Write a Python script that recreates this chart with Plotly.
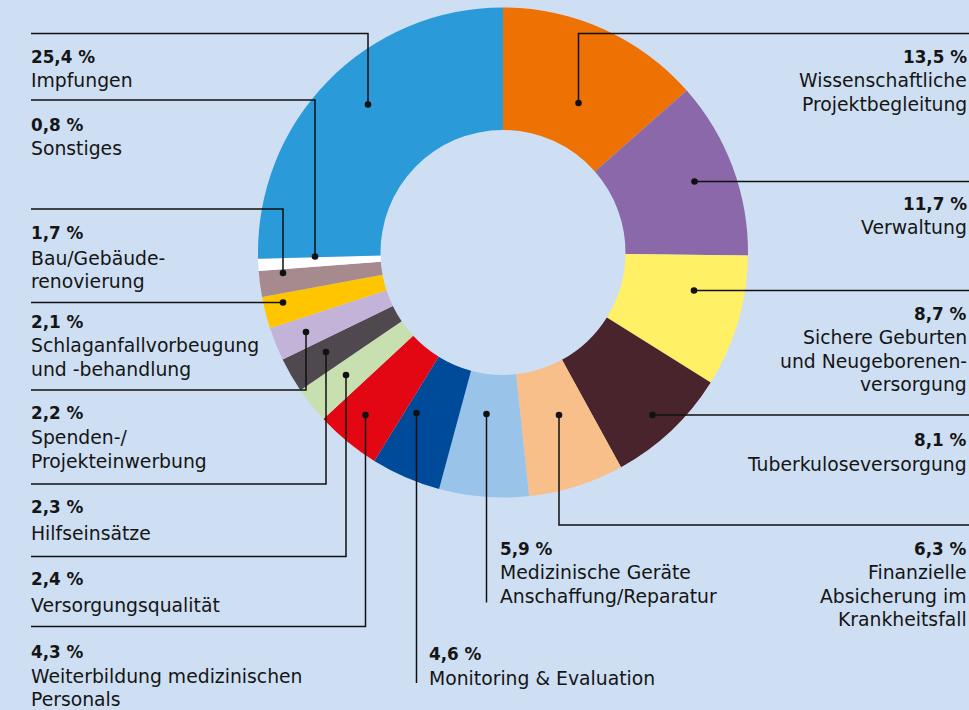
import plotly.graph_objects as go

# ---- data (clockwise from 12 o'clock) ----
labels = ["Wissenschaftliche Projektbegleitung", "Verwaltung",
          "Sichere Geburten und Neugeborenenversorgung", "Tuberkuloseversorgung",
          "Finanzielle Absicherung im Krankheitsfall",
          "Medizinische Geräte Anschaffung/Reparatur", "Monitoring & Evaluation",
          "Weiterbildung medizinischen Personals", "Versorgungsqualität",
          "Hilfseinsätze", "Spenden-/Projekteinwerbung",
          "Schlaganfallvorbeugung und -behandlung", "Bau/Gebäuderenovierung",
          "Sonstiges", "Impfungen"]
values = [13.5, 11.7, 8.7, 8.1, 6.3, 5.9, 4.6, 4.3, 2.4, 2.3, 2.2, 2.1, 1.7, 0.8, 25.4]
pct_text = ["13,5 %", "11,7 %", "8,7 %", "8,1 %", "6,3 %", "5,9 %", "4,6 %", "4,3 %",
            "2,4 %", "2,3 %", "2,2 %", "2,1 %", "1,7 %", "0,8 %", "25,4 %"]
label_lines = [["Wissenschaftliche", "Projektbegleitung"], ["Verwaltung"],
               ["Sichere Geburten", "und Neugeborenen-", "versorgung"],
               ["Tuberkuloseversorgung"],
               ["Finanzielle", "Absicherung im", "Krankheitsfall"],
               ["Medizinische Geräte", "Anschaffung/Reparatur"],
               ["Monitoring & Evaluation"],
               ["Weiterbildung medizinischen", "Personals"],
               ["Versorgungsqualität"], ["Hilfseinsätze"],
               ["Spenden-/", "Projekteinwerbung"],
               ["Schlaganfallvorbeugung", "und -behandlung"],
               ["Bau/Gebäude-", "renovierung"], ["Sonstiges"], ["Impfungen"]]
colors = ["#EE7203", "#8A68AA", "#FFF066", "#4A242D", "#F8BF8B", "#99C3E8", "#004A9A",
          "#E30613", "#C8E0B0", "#4F484F", "#C4B3D8", "#FFC600", "#A68A8E", "#FFFFFF",
          "#2A9AD8"]

# ---- layout (pixel positions of text blocks and leader lines) ----
W, H = 969, 710
BG = "#CEDFF3"
# text block: (x, y_of_first_line_center, xanchor)
blocks = [(968, 57, "right"), (968, 204, "right"), (968, 314, "right"), (968, 440, "right"),
          (968, 549, "right"), (499, 549, "left"), (427.5, 654, "left"), (30, 652, "left"),
          (30, 579, "left"), (30, 507, "left"), (30, 413, "left"), (30, 322, "left"),
          (30, 233, "left"), (30, 125, "left"), (30, 57, "left")]
first_gap = [23.5, 23.5, 23.5, 24.5, 23.5, 23.5, 24, 24, 26, 26, 24.5, 23.5, 25, 23.5, 23.5]
line_step = 23.7
# leader polylines (pixel coords), last point is the dot
leaders = [
    [(969, 33.5), (578.5, 33.5), (578.5, 103)],
    [(969, 181.5), (694.5, 181.5)],
    [(969, 290.5), (694, 290.5)],
    [(969, 415), (652.5, 415)],
    [(969, 525), (559, 525), (559, 415)],
    [(486.5, 602.5), (486.5, 414)],
    [(416.5, 683), (416.5, 413)],
    [(31, 626.5), (365.5, 626.5), (365.5, 415)],
    [(31, 556.5), (346, 556.5), (346, 375)],
    [(31, 484), (326, 484), (326, 352)],
    [(31, 390), (306, 390), (306, 332)],
    [(31, 302.5), (283, 302.5)],
    [(31, 209), (283, 209), (283, 273)],
    [(31, 100), (315, 100), (315, 256.5)],
    [(31, 33.5), (368, 33.5), (368, 104.5)],
]

FONT = "DejaVu Sans"
FS = 18.8
FS_B = 16.8
TXT = "#151515"

fig = go.Figure()
cx, cy, R = 503, 252.5, 245
fig.add_trace(go.Pie(
    values=values, labels=labels, sort=False, direction="clockwise", rotation=0,
    hole=0.5, marker=dict(colors=colors, line=dict(width=0)),
    textinfo="none", hoverinfo="label+percent", showlegend=False,
    domain=dict(x=[(cx - R) / W, (cx + R) / W], y=[(H - cy - R) / H, (H - cy + R) / H]),
))
# invisible trace to establish pixel axes
fig.add_trace(go.Scatter(x=[0, W], y=[0, H], mode="markers", marker=dict(opacity=0),
                         hoverinfo="skip", showlegend=False))

shapes = []
for pts in leaders:
    path = "M " + " L ".join(f"{x},{y}" for x, y in pts)
    shapes.append(dict(type="path", path=path, xref="x", yref="y",
                       line=dict(color="#111111", width=1.5), layer="above"))
    dx, dy = pts[-1]
    r = 3.3
    shapes.append(dict(type="circle", xref="x", yref="y", x0=dx - r, x1=dx + r,
                       y0=dy - r, y1=dy + r, fillcolor="#111111",
                       line=dict(width=0), layer="above"))

annotations = []
for i, (bx, by, anc) in enumerate(blocks):
    annotations.append(dict(x=bx, y=by, xref="x", yref="y", text=f"<b>{pct_text[i]}</b>",
                            showarrow=False, xanchor=anc, yanchor="middle", borderpad=0,
                            font=dict(family=FONT, size=FS_B, color=TXT)))
    for j, ln in enumerate(label_lines[i]):
        annotations.append(dict(x=bx, y=by + first_gap[i] + j * line_step, xref="x", yref="y",
                                text=ln, showarrow=False, xanchor=anc, yanchor="middle",
                                borderpad=0,
                                font=dict(family=FONT, size=FS, color=TXT)))

fig.update_layout(
    width=W, height=H, margin=dict(l=0, r=0, t=0, b=0),
    paper_bgcolor=BG, plot_bgcolor=BG,
    xaxis=dict(range=[0, W], visible=False, fixedrange=True),
    yaxis=dict(range=[H, 0], visible=False, fixedrange=True),
    shapes=shapes, annotations=annotations,
)
fig.write_html("out.html")
